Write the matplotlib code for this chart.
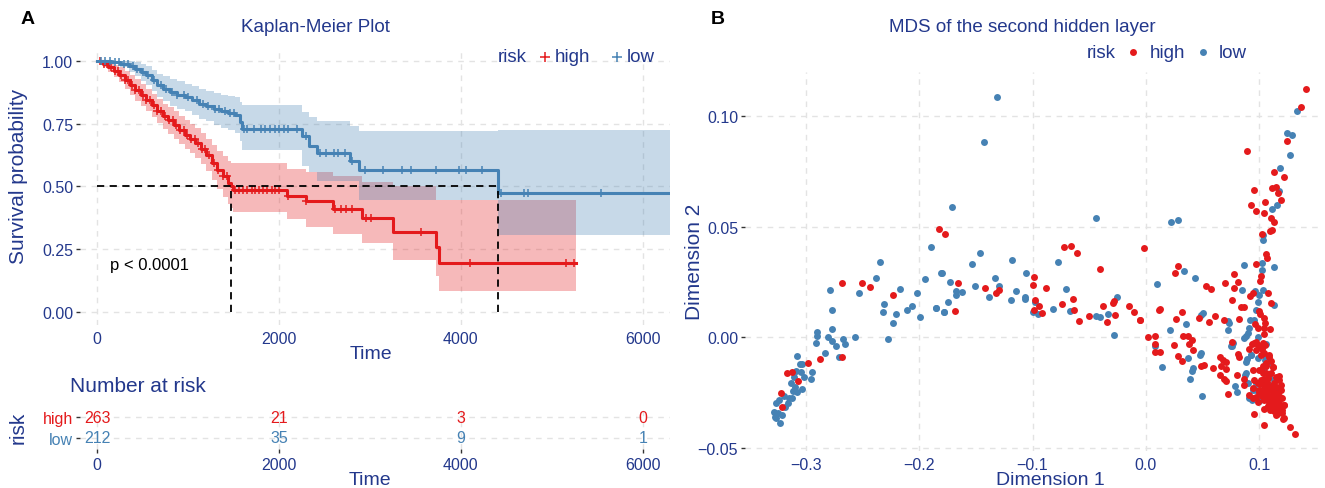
import matplotlib
matplotlib.use("Agg")
import matplotlib.pyplot as plt
from matplotlib.lines import Line2D
import numpy as np

plt.rcParams['font.family'] = ['Liberation Sans', 'DejaVu Sans']

RED = "#E41A1C"
BLUE = "#4682B4"
TXT = "#23388C"
GRID = "#E3E3E3"

# ---- Kaplan-Meier data ----
times_high = [0, 60, 120, 180, 240, 300, 360, 420, 480, 540, 600, 660, 720, 780, 840, 900,
              960, 1020, 1080, 1140, 1200, 1260, 1320, 1380, 1440, 1474, 1495, 2084, 2295,
              2589, 2917, 3254, 3726, 3760]
surv_high = [1.0, 0.99, 0.975, 0.96, 0.945, 0.925, 0.905, 0.885, 0.865, 0.845, 0.825, 0.8,
             0.78, 0.765, 0.745, 0.725, 0.705, 0.69, 0.675, 0.65, 0.625, 0.595, 0.565, 0.54,
             0.515, 0.503, 0.487, 0.463, 0.443, 0.41, 0.375, 0.32, 0.257, 0.194]
upper_high = [1.0, 1.0, 0.995, 0.985, 0.975, 0.96, 0.945, 0.93, 0.91, 0.89, 0.87, 0.85, 0.83,
              0.815, 0.8, 0.78, 0.765, 0.75, 0.735, 0.715, 0.69, 0.665, 0.64, 0.62, 0.6, 0.592,
              0.592, 0.569, 0.556, 0.54, 0.519, 0.503, 0.447, 0.447]
lower_high = [1.0, 0.975, 0.955, 0.935, 0.915, 0.89, 0.865, 0.84, 0.82, 0.8, 0.775, 0.755,
              0.73, 0.71, 0.69, 0.67, 0.65, 0.635, 0.615, 0.59, 0.56, 0.525, 0.49, 0.46, 0.43,
              0.415, 0.399, 0.37, 0.34, 0.31, 0.274, 0.207, 0.143, 0.084]
end_high = 5262
censor_high = [30, 70, 110, 150, 190, 230, 260, 300, 340, 380, 420, 460, 500, 540, 580, 620,
               660, 700, 740, 790, 830, 870, 910, 950, 990, 1030, 1070, 1110, 1150, 1190, 1230,
               1280, 1330, 1380, 1430, 1520, 1560, 1600, 1650, 1700, 1740, 1780, 1820, 1870,
               1920, 1960, 2000, 2100, 2300, 2620, 2680, 2740, 2800, 2960, 3010, 3560, 4100,
               5160, 5240]

times_low = [0, 150, 250, 350, 420, 480, 540, 600, 660, 720, 800, 880, 960, 1040, 1120, 1200,
             1280, 1360, 1440, 1520, 1571, 1590, 2252, 2330, 2421, 2779, 2884, 4412]
surv_low = [1.0, 0.998, 0.99, 0.98, 0.97, 0.958, 0.945, 0.925, 0.905, 0.89, 0.875, 0.865,
            0.855, 0.843, 0.83, 0.82, 0.808, 0.8, 0.792, 0.785, 0.756, 0.731, 0.70, 0.662,
            0.634, 0.602, 0.566, 0.473]
upper_low = [1.0, 1.0, 1.0, 1.0, 0.995, 0.99, 0.98, 0.965, 0.95, 0.94, 0.93, 0.92, 0.91, 0.9,
             0.89, 0.88, 0.872, 0.865, 0.86, 0.855, 0.835, 0.824, 0.795, 0.775, 0.76, 0.742,
             0.72, 0.726]
lower_low = [1.0, 0.99, 0.975, 0.955, 0.94, 0.92, 0.905, 0.88, 0.855, 0.84, 0.82, 0.81, 0.8,
             0.785, 0.77, 0.76, 0.745, 0.735, 0.725, 0.715, 0.68, 0.646, 0.583, 0.556, 0.523,
             0.523, 0.447, 0.306]
end_low = 6300
censor_low = [40, 90, 140, 190, 240, 290, 340, 390, 440, 500, 560, 620, 700, 760, 820, 880,
              950, 1000, 1100, 1160, 1220, 1300, 1340, 1400, 1460, 1500, 1610, 1650, 1720,
              1800, 1850, 1900, 1950, 2000, 2050, 2100, 2200, 2300, 2450, 2520, 2600, 2650,
              2720, 2800, 2950, 3140, 3350, 3450, 3730, 3980, 4060, 4230, 4440, 4690, 4740, 5540]

median_high = 1474
median_low = 4412

risk_times = [0, 2000, 4000, 6000]
risk_high = [263, 21, 3, 0]
risk_low = [212, 35, 9, 1]

# ---- MDS points ----
mds_high = [
    (-0.1824, 0.0492), (-0.177, 0.047), (-0.268, 0.0247), (-0.25, 0.0244), (-0.2435, 0.0227),
    (-0.223, 0.019), (-0.2976, -0.0117), (-0.2876, -0.0099), (-0.2676, -0.0087),
    (-0.3165, -0.016), (-0.3118, -0.0155), (-0.3065, -0.0196), (-0.322, -0.0253),
    (-0.3212, -0.0316),
    (-0.0722, 0.0411), (-0.0661, 0.0414), (-0.0608, 0.0381), (-0.0018, 0.0406),
    (-0.0406, 0.0308), (-0.1661, 0.0248), (-0.1415, 0.0225), (-0.1325, 0.0201),
    (-0.1298, 0.0216), (-0.1687, 0.0118), (-0.0985, 0.0272), (-0.0997, 0.0236),
    (-0.088, 0.0224), (-0.0974, 0.0169), (-0.0944, 0.014), (-0.0988, 0.0122),
    (-0.0915, 0.0112), (-0.0743, 0.0153), (-0.064, 0.0172), (-0.0635, 0.0122),
    (-0.0591, 0.0074), (-0.0506, 0.0097), (-0.0374, 0.0143), (-0.0342, 0.0069),
    (-0.029, 0.0157), (-0.0281, 0.0166), (-0.0269, 0.0101), (-0.0146, 0.0143),
    (-0.0108, 0.0113), (-0.0056, 0.0077), (0.0015, 0.0002), (0.0076, 0.0005), (0.0111, 0.0125),
    (0.1414, 0.1123), (0.1364, 0.1041), (0.1245, 0.0889), (0.0889, 0.0845), (0.1125, 0.0748),
    (0.1216, 0.0727), (0.0953, 0.0667), (0.1114, 0.0677), (0.1143, 0.068), (0.1169, 0.0655),
    (0.093, 0.0598), (0.105, 0.0612), (0.1187, 0.0621), (0.0974, 0.0573), (0.1044, 0.0561),
    (0.1105, 0.0542), (0.1125, 0.0523), (0.1093, 0.0483), (0.1114, 0.0485), (0.1023, 0.047),
    (0.1055, 0.0376), (0.107, 0.0361),
    (0.0286, 0.0324), (0.0257, 0.0291), (0.0968, 0.0332), (0.1015, 0.0276), (0.1009, 0.0253),
    (0.0778, 0.0287), (0.0808, 0.0252), (0.0694, 0.0246), (0.0528, 0.0231), (0.0577, 0.0219),
    (0.0776, 0.0223), (0.0948, 0.0201), (0.1073, 0.0201), (0.0758, 0.017), (0.0921, 0.0186),
    (0.1102, 0.0155), (0.084, 0.0137), (0.0869, 0.0137), (0.012, 0.0128), (0.0315, 0.0113),
    (-0.005, 0.008), (0.0265, 0.0083), (0.0464, 0.009), (0.0557, 0.0068), (0.0612, 0.0098),
    (0.0685, 0.0077), (0.0825, 0.0084), (0.0994, 0.0121), (0.1003, 0.0106), (0.1044, 0.009),
    (0.1052, 0.0065), (0.0962, 0.0062), (0.0985, 0.0042), (0.1038, 0.0041), (0.109, 0.0038),
    (0.1038, 0.0015), (0.0076, -0.003), (0.0082, -0.0065), (0.0128, -0.0065),
    (0.0248, -0.0033), (0.033, 0.0005), (0.0373, 0.0008), (0.0402, -0.0011),
    (0.0382, -0.0029), (0.0417, -0.0059), (0.0286, -0.0083), (0.0321, -0.0106),
    (0.0761, -0.0023), (0.0907, -0.0051), (0.0936, -0.003), (0.0971, -0.0023), (0.1, -0.0041),
    (0.1023, -0.0051), (0.1052, -0.0033), (0.1087, -0.008), (0.1102, -0.0106),
    (0.0656, -0.009), (0.0679, -0.0101), (0.0708, -0.0112), (0.0816, -0.0075),
    (0.0825, -0.009), (0.0662, -0.0131), (0.0708, -0.0143), (0.0592, -0.0139),
    (0.049, -0.0131), (0.0513, -0.0127), (0.065, -0.0169), (0.0688, -0.0189),
    (0.0708, -0.0199), (0.0802, -0.017), (0.0869, -0.0189), (0.0863, -0.0214),
    (0.0945, -0.0146), (0.1015, -0.0146), (0.1058, -0.0131), (0.1117, -0.0134),
    (0.1175, -0.0176), (0.119, -0.0217), (0.0723, -0.0255), (0.091, -0.0259),
    (0.0941, -0.0275), (0.0985, -0.0207), (0.1, -0.0237), (0.102, -0.0267),
    (0.1058, -0.0252), (0.1087, -0.0267), (0.1117, -0.0282), (0.1146, -0.0305),
    (0.1175, -0.0297), (0.1219, -0.0308), (0.1131, -0.0335), (0.116, -0.0345),
    (0.1204, -0.033), (0.1213, -0.037), (0.1044, -0.0324), (0.1079, -0.0312),
    (0.0956, -0.0345), (0.1041, -0.0397), (0.1271, -0.0406), (0.1312, -0.0436),
    (0.0956, -0.0027), (0.0985, -0.0035), (0.1029, -0.0027), (0.0971, -0.0057),
    (0.1015, -0.008), (0.1044, -0.0072), (0.1088, -0.0087), (0.1058, -0.0118),
    (0.1117, -0.0133), (0.1102, -0.0163), (0.1146, -0.0178), (0.1175, -0.0193),
    (0.1, -0.0148), (0.1029, -0.0163), (0.1073, -0.0185), (0.1015, -0.0193),
    (0.1044, -0.0216), (0.1088, -0.0223), (0.1117, -0.0238), (0.1146, -0.0223),
    (0.119, -0.0238), (0.1, -0.0246), (0.1029, -0.0261), (0.1073, -0.0268),
    (0.1117, -0.0261), (0.1161, -0.0268), (0.1204, -0.0276), (0.1044, -0.0284),
    (0.1088, -0.0291), (0.1131, -0.0299), (0.1175, -0.0306), (0.1219, -0.0306),
    (0.1073, -0.0314), (0.1117, -0.0329), (0.1161, -0.0336), (0.1204, -0.0344),
    (0.1146, -0.0314), (0.1102, -0.0268), (0.1131, -0.0208), (0.1161, -0.0253),
    (0.0956, -0.0193), (0.0942, -0.0231), (0.0971, -0.0268), (0.0985, -0.0291),
    (0.1219, -0.0366), (0.106, -0.025), (0.109, -0.024), (0.112, -0.027), (0.108, -0.027),
    (0.110, -0.030), (0.113, -0.032), (0.116, -0.029), (0.105, -0.023), (0.107, -0.020),
    (0.111, -0.022), (0.114, -0.025), (0.118, -0.027), (0.104, -0.019), (0.103, -0.024),
    (0.109, -0.033), (0.115, -0.035), (0.119, -0.032), (0.101, -0.021), (0.106, -0.016),
    (0.103, -0.013),
]

mds_low = [
    (-0.1897, 0.041), (-0.2347, 0.0342), (-0.2382, 0.0267), (-0.2782, 0.0214),
    (-0.2529, 0.0199), (-0.2168, 0.0218), (-0.2015, 0.0203), (-0.1947, 0.0265),
    (-0.18, 0.0292), (-0.2312, 0.0151), (-0.2315, 0.0117), (-0.22, 0.0108), (-0.2106, 0.0123),
    (-0.2059, 0.0143), (-0.1994, 0.0093), (-0.1847, 0.0134), (-0.1776, 0.0116),
    (-0.2226, 0.0066), (-0.2768, 0.0122), (-0.29, 0.0026), (-0.2897, 0.0008),
    (-0.2765, 0.0038), (-0.2806, 0.0003), (-0.2562, 0.0002), (-0.2271, -0.0008),
    (-0.2906, -0.0024), (-0.2765, -0.0017), (-0.2668, -0.0009), (-0.2656, -0.0032),
    (-0.2732, -0.0038), (-0.2832, -0.0069), (-0.2706, -0.0087), (-0.3076, -0.0084),
    (-0.305, -0.012), (-0.3029, -0.012), (-0.2944, -0.0155), (-0.3044, -0.0155),
    (-0.3088, -0.015), (-0.3018, -0.0178), (-0.295, -0.019), (-0.3103, -0.0178),
    (-0.3132, -0.0208), (-0.3094, -0.0223), (-0.3109, -0.0241), (-0.3029, -0.0235),
    (-0.3079, -0.0248), (-0.3191, -0.0265), (-0.3147, -0.0276), (-0.3118, -0.0276),
    (-0.3235, -0.0283), (-0.3259, -0.0298), (-0.3153, -0.0298), (-0.3182, -0.0313),
    (-0.3279, -0.0336), (-0.3244, -0.0343), (-0.3212, -0.0351), (-0.3259, -0.0366),
    (-0.3229, -0.0386), (-0.327, -0.0358),
    (-0.1313, 0.1089), (-0.143, 0.0885), (-0.171, 0.0588), (-0.0439, 0.0541),
    (-0.1459, 0.0382), (-0.1535, 0.0331), (-0.1184, 0.0349), (-0.181, 0.0292),
    (-0.0772, 0.0343), (-0.1058, 0.0293), (-0.1725, 0.0252), (-0.1506, 0.0233),
    (-0.133, 0.0269), (-0.1298, 0.0233), (-0.1673, 0.0208), (-0.1673, 0.019),
    (-0.1623, 0.0204), (-0.1146, 0.0208), (-0.138, 0.0183), (-0.1743, 0.0162),
    (-0.1854, 0.0133), (-0.1784, 0.0115), (-0.119, 0.0169), (-0.1067, 0.0183),
    (-0.1064, 0.0172), (-0.0977, 0.016), (-0.0994, 0.0115), (-0.095, 0.0107),
    (-0.0822, 0.013), (-0.0705, 0.0218), (-0.0667, 0.0119), (-0.0444, 0.0097),
    (-0.0406, 0.0094), (-0.033, 0.0107), (-0.0251, 0.0181), (-0.0284, 0.0011),
    (0.1332, 0.1026), (0.1242, 0.0926), (0.1292, 0.0915), (0.1271, 0.0827), (0.1181, 0.0767),
    (0.1172, 0.0662), (0.1155, 0.06), (0.1114, 0.058), (0.0222, 0.0523), (0.0286, 0.0532),
    (0.1032, 0.0465), (0.1032, 0.0442),
    (0.0869, 0.0329), (0.102, 0.0336), (0.1131, 0.0318), (0.102, 0.0303), (0.0332, 0.0302),
    (0.0429, 0.027), (0.0102, 0.0241), (0.0848, 0.0216), (0.1035, 0.0216), (0.1, 0.0193),
    (0.0962, 0.0208), (0.0991, 0.0158), (0.1125, 0.0146), (0.0974, 0.0122), (0.0504, 0.011),
    (0.049, 0.01), (0.0723, 0.0075), (0.0732, 0.0065), (0.035, 0.0062), (0.0921, 0.008),
    (0.0956, 0.0077), (0.0913, 0.0042), (0.0723, 0.0035), (0.021, 0.0032), (0.0886, 0.0008),
    (0.0869, -0.0003), (0.0991, 0.0002), (0.1058, -0.003), (0.0761, -0.0041),
    (0.0746, -0.0039), (0.0076, -0.0041), (0.049, -0.0071), (0.0475, -0.0078),
    (0.0373, -0.0094), (0.0892, -0.0097), (0.0927, -0.0078), (0.0985, -0.0094),
    (0.1052, -0.0101), (0.1064, -0.0083), (0.1079, -0.0116), (0.014, -0.0134),
    (0.0417, -0.0139), (0.0408, -0.0154), (0.0388, -0.0187), (0.0878, -0.0169),
    (0.0898, -0.0207), (0.1044, -0.0199), (0.1087, -0.0214), (0.1125, -0.0222),
    (0.0787, -0.0222), (0.0799, -0.0249), (0.0493, -0.0267), (0.0971, -0.0237),
    (0.0933, -0.0282), (0.1, -0.029), (0.1087, -0.029),
    (0.0898, 0.0018), (0.0766, -0.0027), (0.0927, -0.008), (0.0883, -0.011),
    (0.1073, -0.0103), (0.1044, -0.014), (0.0883, -0.0163), (0.0971, -0.0208),
    (0.0942, -0.0238), (0.1029, -0.0238), (0.1088, -0.0178), (0.1131, -0.0193),
    (0.0912, -0.0276), (0.1146, -0.0231),
]


def step_value(times, values, t):
    i = np.searchsorted(times, t, side='right') - 1
    return np.asarray(values)[i]


W, H = 1325, 489
fig = plt.figure(figsize=(W / 100, H / 100), dpi=100)

# sizes: horizontal text vs rotated text (reference glyphs are tall)
FS_TICK = 11.5
FS_TITLE = 13.5
FS_LAB = 14
FS_ROT = 15
FS_LEG = 13.5


def fx(px):
    return px / W


def fy(py):
    return 1 - py / H


def style_axis(ax):
    for s in ax.spines.values():
        s.set_visible(False)
    ax.grid(True, color=GRID, linestyle=(0, (4, 4)), linewidth=1.0)
    ax.set_axisbelow(True)
    ax.tick_params(colors="#333333", labelcolor=TXT, labelsize=FS_TICK, length=3, width=1, pad=2)


# ---------------- Panel A: KM ----------------
ax = fig.add_axes([fx(80), fy(326), fx(670) - fx(80), fy(50) - fy(326)])
style_axis(ax)

for times, surv, up, lo, end, cens, col in [
        (times_high, surv_high, upper_high, lower_high, end_high, censor_high, RED),
        (times_low, surv_low, upper_low, lower_low, end_low, censor_low, BLUE)]:
    t_ext = list(times) + [end]
    ax.fill_between(t_ext, list(lo) + [lo[-1]], list(up) + [up[-1]], step='post',
                    color=col, alpha=0.3, linewidth=0)
    ax.plot(t_ext, list(surv) + [surv[-1]], drawstyle='steps-post', color=col, lw=2.2)
    cy = [step_value(times, surv, c) for c in cens]
    ax.plot(cens, cy, linestyle='none', marker='+', color=col, ms=6, mew=1.1)

# median lines
ax.plot([0, median_low], [0.5, 0.5], color='black', lw=1.3, ls=(0, (4, 3)))
ax.plot([median_high, median_high], [0, 0.5], color='black', lw=1.3, ls=(0, (4, 3)))
ax.plot([median_low, median_low], [0, 0.5], color='black', lw=1.3, ls=(0, (4, 3)))
ax.text(140, 0.19, "p < 0.0001", fontsize=12, color='black', va='center', ha='left')

ax.set_xlim(-190, 6300)
ax.set_ylim(-0.052, 1.048)
ax.set_xticks([0, 2000, 4000, 6000])
ax.set_yticks([0, 0.25, 0.5, 0.75, 1.0])
ax.set_yticklabels(["0.00", "0.25", "0.50", "0.75", "1.00"])
ax.tick_params(axis='x', length=0, pad=4)

fig.text(fx(28), fy(20), "A", fontsize=14, fontweight='bold', ha='center', va='center')
fig.text(fx(315), fy(28), "Kaplan-Meier Plot", fontsize=FS_TITLE, color=TXT, ha='center',
         va='center')
fig.text(fx(19), fy(176), "Survival probability", fontsize=FS_ROT, color=TXT, rotation=90,
         ha='center', va='center')
fig.text(fx(371), fy(355), "Time", fontsize=FS_LAB, color=TXT, ha='center', va='center')

# legend A
fig.text(fx(498), fy(58), "risk", fontsize=FS_LEG, color=TXT, ha='left', va='center')
fig.add_artist(Line2D([fx(545)], [fy(58)], marker='+', color=RED, ms=7, mew=1.1,
                      transform=fig.transFigure))
fig.text(fx(555), fy(58), "high", fontsize=FS_LEG, color=TXT, ha='left', va='center')
fig.add_artist(Line2D([fx(617)], [fy(58)], marker='+', color=BLUE, ms=7, mew=1.1,
                      transform=fig.transFigure))
fig.text(fx(627), fy(58), "low", fontsize=FS_LEG, color=TXT, ha='left', va='center')

# ---------------- Risk table ----------------
axr = fig.add_axes([fx(80), fy(450), fx(670) - fx(80), fy(407) - fy(450)])
style_axis(axr)
axr.set_xlim(-190, 6300)
axr.set_ylim(0.476, 2.524)
for t, n in zip(risk_times, risk_high):
    axr.text(t, 2, str(n), color=RED, fontsize=11.5, ha='center', va='center')
for t, n in zip(risk_times, risk_low):
    axr.text(t, 1, str(n), color=BLUE, fontsize=11.5, ha='center', va='center')
axr.set_xticks(risk_times)
axr.set_yticks([1, 2])
axr.set_yticklabels(["low", "high"])
axr.get_yticklabels()[0].set_color(BLUE)
axr.get_yticklabels()[1].set_color(RED)
axr.tick_params(axis='x', pad=3)
fig.text(fx(70), fy(386), "Number at risk", fontsize=15, color=TXT, ha='left', va='center')
fig.text(fx(18), fy(428), "risk", fontsize=FS_ROT, color=TXT, rotation=90, ha='center',
         va='center')
fig.text(fx(370), fy(481), "Time", fontsize=FS_LAB, color=TXT, ha='center', va='center')

# ---------------- Panel B: MDS ----------------
axb = fig.add_axes([fx(745), fy(452), fx(1320) - fx(745), fy(73) - fy(452)])
style_axis(axb)
hx, hy = zip(*mds_high)
lx, ly = zip(*mds_low)
axb.scatter(lx, ly, s=25, color=BLUE, linewidths=0, zorder=3)
axb.scatter(hx, hy, s=25, color=RED, linewidths=0, zorder=3)
axb.set_xlim(-0.3535, 0.1535)
axb.set_ylim(-0.0514, 0.1201)
axb.set_xticks([-0.3, -0.2, -0.1, 0.0, 0.1])
axb.set_xticklabels(["\u22120.3", "\u22120.2", "\u22120.1", "0.0", "0.1"])
axb.set_yticks([-0.05, 0.0, 0.05, 0.10])
axb.set_yticklabels(["\u22120.05", "0.00", "0.05", "0.10"])
axb.tick_params(axis='x', length=0, pad=4)

fig.text(fx(718), fy(20), "B", fontsize=14, fontweight='bold', ha='center', va='center')
fig.text(fx(1022), fy(28), "MDS of the second hidden layer", fontsize=FS_TITLE, color=TXT,
         ha='center', va='center')
fig.text(fx(694), fy(262), "Dimension 2", fontsize=FS_ROT, color=TXT, rotation=90,
         ha='center', va='center')
fig.text(fx(1050), fy(481), "Dimension 1", fontsize=FS_LAB, color=TXT, ha='center', va='center')

fig.text(fx(1087), fy(53), "risk", fontsize=FS_LEG, color=TXT, ha='left', va='center')
fig.add_artist(Line2D([fx(1133)], [fy(53)], marker='o', color=RED, ms=5, mew=0,
                      transform=fig.transFigure))
fig.text(fx(1150), fy(53), "high", fontsize=FS_LEG, color=TXT, ha='left', va='center')
fig.add_artist(Line2D([fx(1203)], [fy(53)], marker='o', color=BLUE, ms=5, mew=0,
                      transform=fig.transFigure))
fig.text(fx(1219), fy(53), "low", fontsize=FS_LEG, color=TXT, ha='left', va='center')

fig.savefig("out.png", dpi=100)
